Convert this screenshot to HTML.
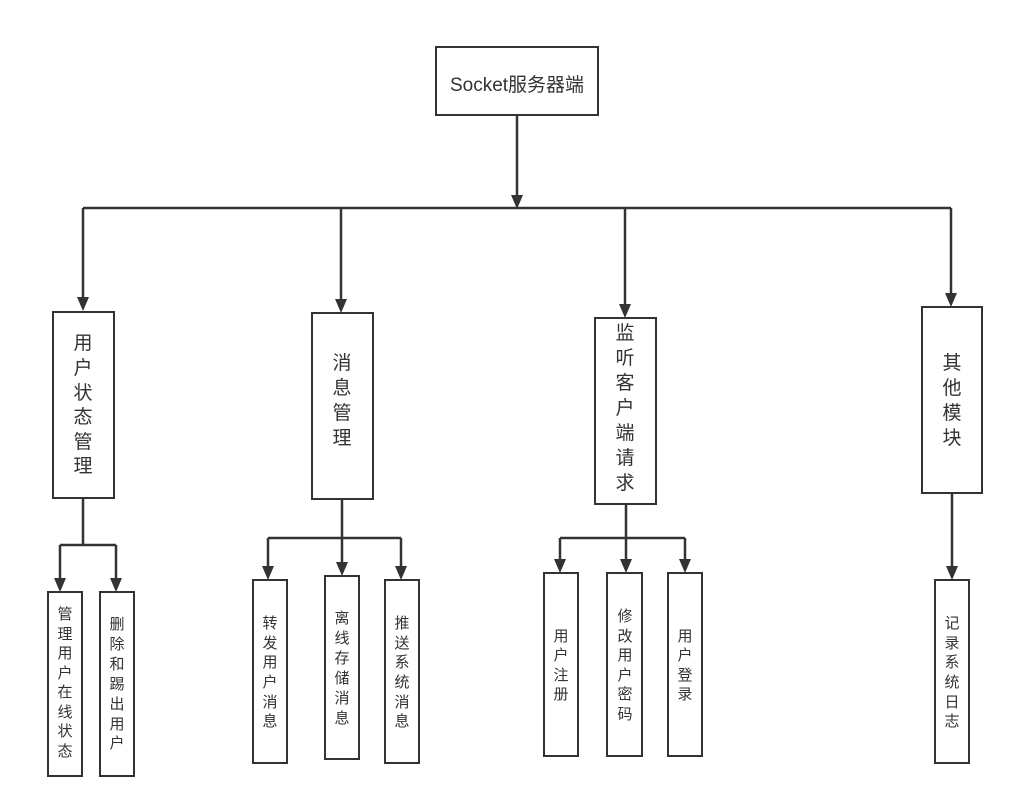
<!DOCTYPE html>
<html><head><meta charset="utf-8"><style>
html,body{margin:0;padding:0;background:#fff;}
svg{display:block;}
text{font-family:"Liberation Sans","Noto Sans CJK SC",sans-serif;fill:#333;text-anchor:middle;}
</style></head><body>
<svg width="1014" height="807" viewBox="0 0 1014 807" xmlns="http://www.w3.org/2000/svg">
<g fill="#fff" stroke="#333" stroke-width="2">
<rect x="436" y="47" width="162" height="68"/>
<rect x="53" y="312" width="61" height="186"/>
<rect x="312" y="313" width="61" height="186"/>
<rect x="595" y="318" width="61" height="186"/>
<rect x="922" y="307" width="60" height="186"/>
<rect x="48" y="592" width="34" height="184"/>
<rect x="100" y="592" width="34" height="184"/>
<rect x="253" y="580" width="34" height="183"/>
<rect x="325" y="576" width="34" height="183"/>
<rect x="385" y="580" width="34" height="183"/>
<rect x="544" y="573" width="34" height="183"/>
<rect x="607" y="573" width="35" height="183"/>
<rect x="668" y="573" width="34" height="183"/>
<rect x="935" y="580" width="34" height="183"/>
</g>
<g stroke="#333" stroke-width="2.5" fill="none">
<path d="M517 115V196"/>
<path d="M83 208H951"/>
<path d="M83 208V297M341 208V299M625 208V304M951 208V293"/>
<path d="M83 498V545M60 545H116M60 545V579M116 545V579"/>
<path d="M342 499V563M268 538H401M268 538V567M401 538V567"/>
<path d="M626 504V560M560 538H685M560 538V560M685 538V560"/>
<path d="M952 493V567"/>
</g>
<g fill="#333">
<path d="M511 195h12l-6 14z"/>
<path d="M77 297h12l-6 14z"/>
<path d="M335 299h12l-6 14z"/>
<path d="M619 304h12l-6 14z"/>
<path d="M945 293h12l-6 14z"/>
<path d="M54 578h12l-6 14z"/>
<path d="M110 578h12l-6 14z"/>
<path d="M262 566h12l-6 14z"/>
<path d="M336 562h12l-6 14z"/>
<path d="M395 566h12l-6 14z"/>
<path d="M554 559h12l-6 14z"/>
<path d="M620 559h12l-6 14z"/>
<path d="M679 559h12l-6 14z"/>
<path d="M946 566h12l-6 14z"/>
</g>
<text x="517" y="91" font-size="19">Socket服务器端</text>
<g font-size="19">
<text x="83" y="349">用</text><text x="83" y="374">户</text><text x="83" y="399">状</text><text x="83" y="423">态</text><text x="83" y="448">管</text><text x="83" y="472">理</text>
<text x="342" y="369">消</text><text x="342" y="394">息</text><text x="342" y="419">管</text><text x="342" y="444">理</text>
<text x="625" y="339">监</text><text x="625" y="364">听</text><text x="625" y="389">客</text><text x="625" y="414">户</text><text x="625" y="439">端</text><text x="625" y="464">请</text><text x="625" y="489">求</text>
<text x="952" y="369">其</text><text x="952" y="394">他</text><text x="952" y="419">模</text><text x="952" y="444">块</text>
</g>
<g font-size="15">
<text x="65" y="619">管</text><text x="65" y="639">理</text><text x="65" y="658">用</text><text x="65" y="678">户</text><text x="65" y="697">在</text><text x="65" y="717">线</text><text x="65" y="736">状</text><text x="65" y="756">态</text>
<text x="117" y="629">删</text><text x="117" y="649">除</text><text x="117" y="669">和</text><text x="117" y="689">踢</text><text x="117" y="709">出</text><text x="117" y="729">用</text><text x="117" y="748">户</text>
<text x="270" y="628">转</text><text x="270" y="648">发</text><text x="270" y="667">用</text><text x="270" y="687">户</text><text x="270" y="707">消</text><text x="270" y="726">息</text>
<text x="342" y="623">离</text><text x="342" y="643">线</text><text x="342" y="663">存</text><text x="342" y="683">储</text><text x="342" y="703">消</text><text x="342" y="723">息</text>
<text x="402" y="628">推</text><text x="402" y="648">送</text><text x="402" y="667">系</text><text x="402" y="687">统</text><text x="402" y="707">消</text><text x="402" y="726">息</text>
<text x="561" y="641">用</text><text x="561" y="660">户</text><text x="561" y="680">注</text><text x="561" y="699">册</text>
<text x="625" y="621">修</text><text x="625" y="641">改</text><text x="625" y="660">用</text><text x="625" y="680">户</text><text x="625" y="699">密</text><text x="625" y="719">码</text>
<text x="685" y="641">用</text><text x="685" y="660">户</text><text x="685" y="680">登</text><text x="685" y="699">录</text>
<text x="952" y="628">记</text><text x="952" y="648">录</text><text x="952" y="667">系</text><text x="952" y="687">统</text><text x="952" y="707">日</text><text x="952" y="726">志</text>
</g>
</svg>
</body></html>
